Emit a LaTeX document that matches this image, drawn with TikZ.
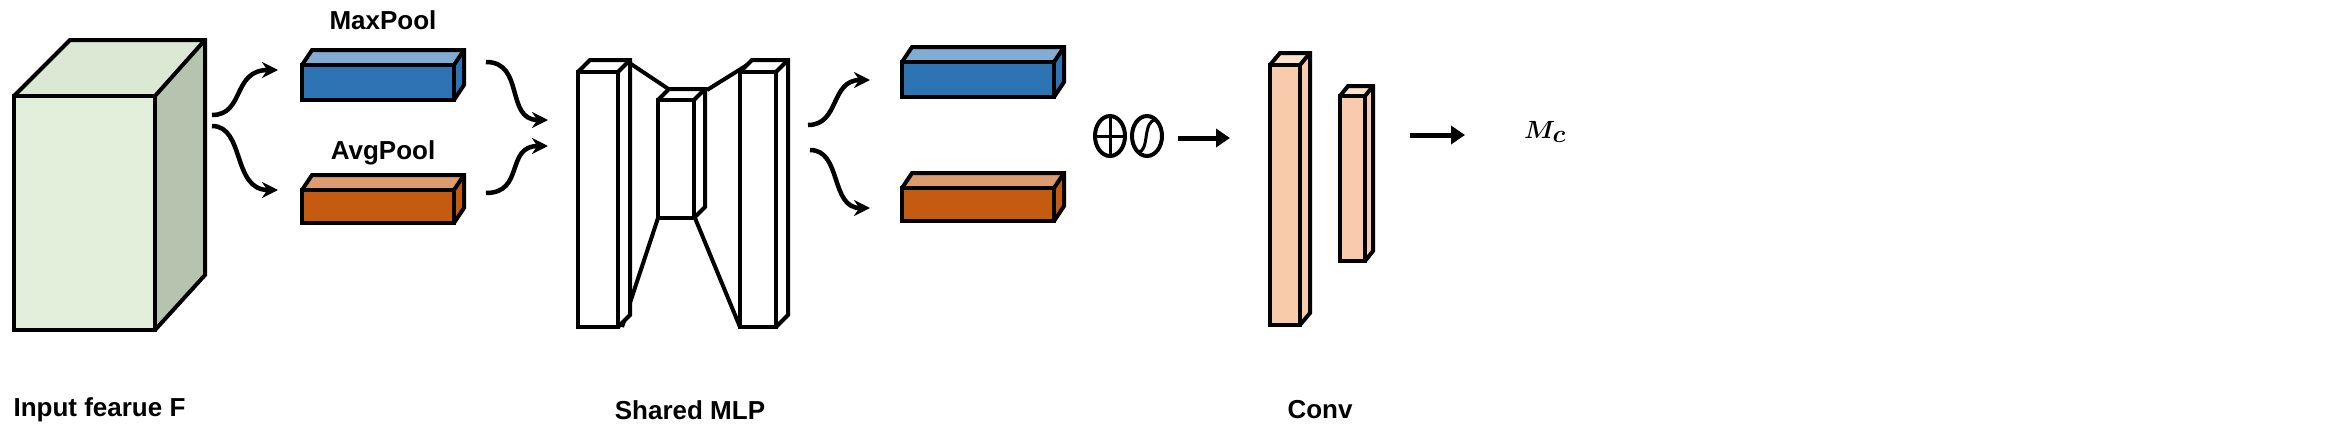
\documentclass[tikz,border=0pt]{standalone}
\usepackage{fontspec}
\setmainfont{Liberation Sans}
\usetikzlibrary{arrows.meta,shapes.geometric}
\definecolor{cubeF}{HTML}{E2EFDA}\definecolor{cubeS}{HTML}{B6C4AF}
\definecolor{bF}{HTML}{2E74B5}\definecolor{bT}{HTML}{5B93C7}
\definecolor{oF}{HTML}{C55A11}\definecolor{oT}{HTML}{D57B3F}
\definecolor{pF}{HTML}{F7CBAC}\definecolor{pS}{HTML}{C9A38C}
\newcommand{\mybox}[8]{% x y w h dx dy front side(top)
 \fill[#8] (#1+#3,#2) -- ++(#5,-#6) -- ++(0,#4) -- ++(-#5,#6) -- cycle;
 \fill[#8!60!white] (#1,#2) -- ++(#5,-#6) -- ++(#3,0) -- ++(-#5,#6) -- cycle;
 \fill[#7] (#1,#2) rectangle ++(#3,#4);
 \draw[ln,line join=miter] (#1,#2) rectangle ++(#3,#4);
 \draw[ln] (#1,#2) -- ++(#5,-#6) -- ++(#3,0) -- ++(0,#4) -- ++(-#5,#6);
 \draw[ln] (#1+#3,#2) -- ++(#5,-#6);}
\newcommand{\mcfont}{\fontsize{46}{50}\selectfont\boldmath}
\begin{document}
\begin{tikzpicture}[x=1pt,y=-1pt,
 ln/.style={line width=4pt},
 carr/.style={line width=4.5pt,-{Stealth[length=16pt,width=16pt]}},
 sarr/.style={line width=5pt,-{Triangle[length=14pt,width=18pt]}},
 lab/.style={font=\bfseries\fontsize{26}{28}\selectfont},
 mcs/.style={font=\mcfont}]
\useasboundingbox (0,0) rectangle (2327,445);
% cube
\fill[cubeS] (155,96) -- (205,40) -- (205,275) -- (155,330) -- cycle;
\fill[cubeF!85!cubeS] (14,96) -- (70,40) -- (205,40) -- (155,96) -- cycle;
\fill[cubeF] (14,96) rectangle (155,330);
\draw[ln] (14,96) rectangle (155,330);
\draw[ln] (14,96) -- (70,40) -- (205,40) -- (205,275) -- (155,330);
\draw[ln] (155,96) -- (205,40);
\node[lab,anchor=west] (inl) at (10,410) {Input fearue F};
% pool bars
\mybox{302}{65}{152}{35}{10}{15}{bF}{bF}
\mybox{302}{190}{152}{33}{10}{15}{oF}{oF}
\node[lab] (mx) at (383,20) {MaxPool};
\node[lab] (av) at (383,153) {AvgPool};
\coordinate (a1) at (212,115); \coordinate (a1e) at (278,70);
\coordinate (a2) at (212,126); \coordinate (a2e) at (278,190);
\draw[carr] (a1) .. controls (245,115) and (232,70) .. (a1e);
\draw[carr] (a2) .. controls (245,126) and (232,190) .. (a2e);
\coordinate (b1) at (486,62); \coordinate (b1e) at (548,120);
\coordinate (b2) at (486,193); \coordinate (b2e) at (548,146);
\draw[carr] (b1) .. controls (525,62) and (505,120) .. (b1e);
\draw[carr] (b2) .. controls (525,193) and (505,146) .. (b2e);
% MLP
\draw[ln] (628,62) -- (670,90); \draw[ln] (622,327) -- (658,218);
\draw[ln] (707,90) -- (752,62); \draw[ln] (695,218) -- (740,327);
\mybox{578}{72}{40}{255}{12}{12}{white}{white}
\mybox{658}{100}{36}{118}{11}{11}{white}{white}
\mybox{740}{72}{36}{255}{12}{12}{white}{white}
\node[lab] (mlp) at (690,410) {Shared MLP};
% right bars
\mybox{902}{62}{152}{35}{10}{15}{bF}{bF}
\mybox{902}{188}{152}{33}{10}{15}{oF}{oF}
\coordinate (c1) at (808,125); \coordinate (c1e) at (870,80);
\coordinate (c2) at (810,150); \coordinate (c2e) at (870,208);
\draw[carr] (c1) .. controls (840,125) and (830,80) .. (c1e);
\draw[carr] (c2) .. controls (842,150) and (830,208) .. (c2e);
% symbols
\node[draw,ln,ellipse,minimum width=30pt,minimum height=40pt,inner sep=0] (plus) at (1110,136) {};
\draw[line width=3pt] (plus.north) -- (plus.south) (plus.west) -- (plus.east);
\node[draw,ln,ellipse,minimum width=30pt,minimum height=40pt,inner sep=0] (sig) at (1147,136) {};
\draw[line width=3pt] (1138,152) .. controls (1150,152) and (1142,120) .. (1156,120);
\coordinate (d1) at (1178,138); \coordinate (d1e) at (1230,138);
\draw[sarr] (d1) -- (d1e);
% conv
\mybox{1270}{65}{30}{260}{10}{12}{pF}{pF}
\mybox{1340}{96}{25}{165}{8}{10}{pF}{pF}
\node[lab] (conv) at (1320,410) {Conv};
\coordinate (e1) at (1410,135); \coordinate (e1e) at (1465,135);
\draw[sarr] (e1) -- (e1e);
\node[mcs] (mc) at (1545,132) {$M_c$};
\end{tikzpicture}
\end{document}
